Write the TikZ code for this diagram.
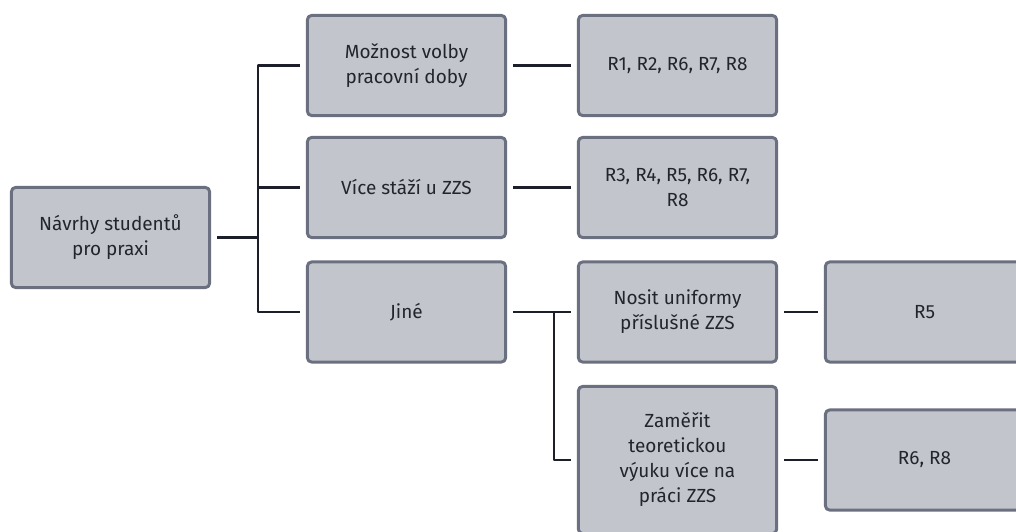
\documentclass[tikz,border=0pt]{standalone}
\usepackage{fontspec}
\setmainfont{Fira Sans}
\definecolor{boxfill}{HTML}{C3C5CD}
\definecolor{boxline}{HTML}{6B7081}
\definecolor{linkcol}{HTML}{1C1F2A}
\definecolor{txtcol}{HTML}{23252C}

\begin{document}
\begin{tikzpicture}[line cap=round,line join=round,x=0.025cm,y=-0.025cm,
		box/.style={draw=boxline,fill=boxfill,line width=0.075cm,rounded corners=0.1cm,
			minimum width=4.95cm,minimum height=2.5cm,outer sep=0.1875cm,align=center,
			text=txtcol,font=\fontsize{13.5}{17.8}\selectfont,inner sep=0pt},
		tall/.style={minimum height=3.675cm},
		link/.style={draw=linkcol,line width=0.06cm,line cap=butt}]
		\useasboundingbox (0,0) rectangle (1016,531);
		\clip (0,0) rectangle (1016,531);
		% uzly
		\node[box] (navrhy) at (110.5,237.5) {Návrhy studentů\\pro praxi};
		\node[box] (volba) at (406.5,65.5) {Možnost volby\\pracovní doby};
		\node[box] (staze) at (406.5,187.5) {Více stáží u ZZS};
		\node[box] (jine) at (406.5,312) {Jiné};
		\node[box] (rvolba) at (677.5,65.5) {R1, R2, R6, R7, R8};
		\node[box] (rstaze) at (677.5,187.5) {R3, R4, R5, R6, R7,\\R8};
		\node[box] (uniformy) at (677.5,312) {Nosit uniformy\\příslušné ZZS};
		\node[box,tall] (vyuka) at (677.5,460) {Zaměřit\\teoretickou\\výuku více na\\práci ZZS};
		\node[box] (runiformy) at (924.5,312) {R5};
		\node[box] (rvyuka) at (924.5,460) {R6, R8};
		% spojnice
		\coordinate (kmen) at (258,237.5);
		\coordinate (kmenjine) at (554,312);
		\draw[link] (navrhy.east) -- (kmen);
		\draw[link] (kmen) |- (volba.west);
		\draw[link] (kmen) |- (staze.west);
		\draw[link] (kmen) |- (jine.west);
		\draw[link] (volba.east) -- (rvolba.west);
		\draw[link] (staze.east) -- (rstaze.west);
		\draw[link] (jine.east) -- (uniformy.west);
		\draw[link] (kmenjine) |- (vyuka.west);
		\draw[link] (uniformy.east) -- (runiformy.west);
		\draw[link] (vyuka.east) -- (rvyuka.west);
	\end{tikzpicture}
\end{document}
